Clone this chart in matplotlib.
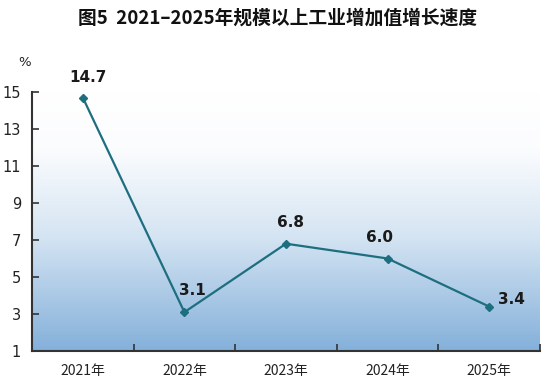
import matplotlib
matplotlib.use("Agg")
import matplotlib.pyplot as plt
import numpy as np
from matplotlib.colors import LinearSegmentedColormap

plt.rcParams['font.family'] = ['Noto Sans CJK SC', 'DejaVu Sans']

title = "图5  2021–2025年规模以上工业增加值增长速度"
categories = ["2021年", "2022年", "2023年", "2024年", "2025年"]
values = [14.7, 3.1, 6.8, 6.0, 3.4]
yticks = [1, 3, 5, 7, 9, 11, 13, 15]

W, H = 550, 385
fig = plt.figure(figsize=(5.5, 3.85), dpi=100)
ax = fig.add_axes([32 / W, 1 - 351 / H, (540 - 32) / W, (351 - 92) / H])

# gradient background (blue at bottom, white at top)
cmap = LinearSegmentedColormap.from_list(
    "bg", [(0.0, "#ffffff"), (0.22, "#fbfcfe"), (0.55, "#d6e5f3"), (1.0, "#84b0da")])
grad = np.linspace(1, 0, 256).reshape(-1, 1)
ax.imshow(grad, aspect="auto", cmap=cmap, vmin=0, vmax=1,
          extent=[0, len(categories), 1, 15], origin="lower", zorder=0)
ax.set_xlim(0, len(categories))
ax.set_ylim(1, 15)

xs = np.arange(len(categories)) + 0.5
ax.plot(xs, values, color="#1d6f7f", lw=1.6, marker="D", ms=4.2,
        mec="#1d6f7f", mfc="#1d6f7f", zorder=3)

offsets = [(4, 9, "center", "bottom"), (6, 10, "center", "bottom"),
           (3, 10, "center", "bottom"), (-6, 10, "center", "bottom"),
           (6, 5, "left", "center")]
for x, v, (dx, dy, ha, va) in zip(xs, values, offsets):
    ax.annotate(f"{v:.1f}", (x, v), xytext=(dx, dy), textcoords="offset points",
                ha=ha, va=va, fontsize=11, fontweight="bold", color="#1a1a1a",
                family="DejaVu Sans")

ax.set_yticks(yticks)
ax.set_yticklabels([str(t) for t in yticks], fontsize=10.5, color="#222222",
                   family="DejaVu Sans")
ax.set_xticks(np.arange(len(categories) + 1))
ax.set_xticklabels([""] * (len(categories) + 1))
ax.tick_params(axis="y", direction="in", length=5, width=1.2, color="#333333", pad=8)
ax.tick_params(axis="x", direction="in", length=5, width=1.2, color="#333333")
for i, c in enumerate(categories):
    ax.text(i + 0.5, -0.05, c, transform=ax.get_xaxis_transform(),
            ha="center", va="top", fontsize=10, color="#222222")

for s in ["top", "right"]:
    ax.spines[s].set_visible(False)
for s in ["left", "bottom"]:
    ax.spines[s].set_color("#333333")
    ax.spines[s].set_linewidth(1.5)

fig.text(25 / W, 1 - 63 / H, "%", ha="center", va="center", fontsize=9.5,
         color="#222222", family="DejaVu Sans")
fig.text(278 / W, 1 - 18 / H, title, ha="center", va="center", fontsize=13.5,
         color="#111111", fontweight="bold")

fig.savefig("out.png", dpi=100)
